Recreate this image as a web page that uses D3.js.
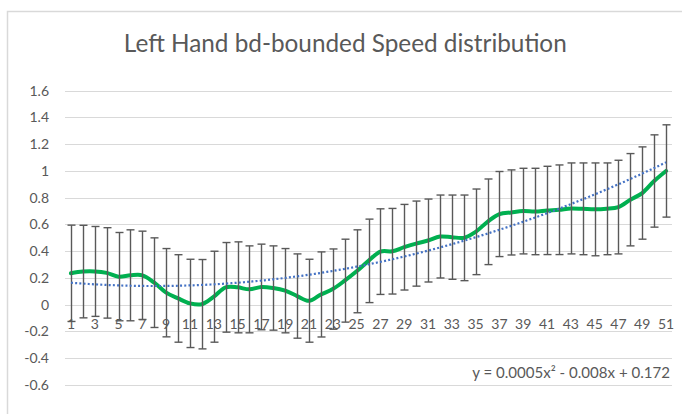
<!DOCTYPE html>
<html>
<head>
<meta charset="utf-8">
<script src="https://cdn.jsdelivr.net/npm/d3@7"></script>
<style>
  html, body { margin: 0; padding: 0; background: #fff; }
  svg { display: block; }
  text { font-family: Lato, "Open Sans", "Liberation Sans", sans-serif; fill: #595959; }
</style>
</head>
<body>
<svg id="chart" width="682" height="414"></svg>
<script>
// Sample index (1..51)
const categories = [1,2,3,4,5,6,7,8,9,10,11,12,13,14,15,16,17,18,19,20,21,22,23,24,25,
  26,27,28,29,30,31,32,33,34,35,36,37,38,39,40,41,42,43,44,45,46,47,48,49,50,51];

// Mean speed per sample
const meanSpeed = [0.235,0.248,0.249,0.238,0.21,0.22,0.22,0.165,0.09,0.047,0.01,0.004,0.06,0.13,
  0.13,0.115,0.133,0.125,0.105,0.065,0.03,0.077,0.117,0.18,0.25,0.328,0.397,0.40,0.43,0.457,
  0.48,0.51,0.505,0.50,0.545,0.62,0.678,0.69,0.70,0.697,0.705,0.71,0.72,0.717,0.713,0.717,
  0.73,0.785,0.835,0.925,1.0];

// Standard deviation per sample (symmetric error bars)
const stdDev = [0.36,0.346,0.336,0.338,0.33,0.34,0.33,0.335,0.33,0.327,0.33,0.334,0.34,0.335,
  0.34,0.325,0.32,0.315,0.315,0.315,0.31,0.318,0.30,0.31,0.31,0.312,0.32,0.32,0.32,0.318,
  0.31,0.31,0.315,0.32,0.32,0.32,0.318,0.318,0.32,0.323,0.33,0.335,0.34,0.343,0.347,0.343,
  0.35,0.345,0.345,0.345,0.345];

// Polynomial trendline coefficients: c0 + c1*x + c2*x^2
const trendCoef = [0.172, -0.008, 0.0005];

// Axis tick values
const yTicks = [-0.6,-0.4,-0.2,0,0.2,0.4,0.6,0.8,1,1.2,1.4,1.6];
const xTickLabels = [1,3,5,7,9,11,13,15,17,19,21,23,25,27,29,31,33,35,37,39,41,43,45,47,49,51];

const titleText = "Left Hand bd-bounded Speed distribution";
const equationText = "y = 0.0005x\u00B2 - 0.008x + 0.172";

const svg = d3.select("#chart");

// chart frame
svg.append("rect")
  .attr("x", 7.5).attr("y", 11.5)
  .attr("width", 720).attr("height", 440)
  .attr("fill", "none").attr("stroke", "#d9d9d9").attr("stroke-width", 1.5);

const plot = { left: 65, right: 672, top: 90.7, bottom: 385 };

const x = d3.scaleBand().domain(categories).range([plot.left, plot.right]);
const cx = c => x(c) + x.bandwidth() / 2;
const y = d3.scaleLinear().domain([-0.6, 1.6]).range([plot.bottom, plot.top]);

// gridlines
svg.append("g").selectAll("line").data(yTicks).join("line")
  .attr("x1", plot.left).attr("x2", plot.right)
  .attr("y1", d => Math.round(y(d)) + 0.5).attr("y2", d => Math.round(y(d)) + 0.5)
  .attr("stroke", "#d9d9d9").attr("stroke-width", 1);

// y axis labels
const yAxis = d3.axisLeft(y).tickValues(yTicks).tickSize(0).tickPadding(16)
  .tickFormat(d => String(+d.toFixed(1)).replace("\u2212", "-"));
svg.append("g").attr("transform", `translate(${plot.left},0)`).call(yAxis)
  .call(g => g.select(".domain").remove())
  .selectAll("text")
  .style("font-family", "Lato, 'Open Sans', 'Liberation Sans', sans-serif")
  .style("font-size", "14px").attr("fill", "#595959");

// x axis labels sitting on the zero line
const xAxis = d3.axisBottom(x).tickValues(xTickLabels).tickSize(0).tickPadding(14);
svg.append("g").attr("transform", `translate(0,${y(0)})`).call(xAxis)
  .call(g => g.select(".domain").remove())
  .selectAll("text")
  .style("font-family", "Lato, 'Open Sans', 'Liberation Sans', sans-serif")
  .style("font-size", "14px").attr("fill", "#595959");

// mean speed line (smoothed)
const line = d3.line()
  .x((d, i) => cx(categories[i]))
  .y(d => y(d))
  .curve(d3.curveCatmullRom.alpha(0.5));
svg.append("path").datum(meanSpeed)
  .attr("d", line)
  .attr("fill", "none").attr("stroke", "#00b050")
  .attr("stroke-width", 4).attr("stroke-linejoin", "round").attr("stroke-linecap", "round");

// error bars
const eb = svg.append("g").attr("stroke", "#595959").attr("stroke-width", 1.4).attr("fill", "none");
const capHalf = 4;
categories.forEach((c, i) => {
  const px = Math.round(cx(c)) + 0.5;
  const top = y(meanSpeed[i] + stdDev[i]);
  const bot = y(meanSpeed[i] - stdDev[i]);
  eb.append("line").attr("x1", px).attr("x2", px).attr("y1", top).attr("y2", bot);
  eb.append("line").attr("x1", px - capHalf).attr("x2", px + capHalf).attr("y1", top).attr("y2", top);
  eb.append("line").attr("x1", px - capHalf).attr("x2", px + capHalf).attr("y1", bot).attr("y2", bot);
});

// polynomial trendline from the stated equation
const xn = d3.scaleLinear().domain([categories[0], categories[categories.length - 1]])
  .range([cx(categories[0]), cx(categories[categories.length - 1])]);
const poly = t => trendCoef[0] + trendCoef[1] * t + trendCoef[2] * t * t;
const steps = 200;
const trendPts = d3.range(steps + 1).map(k => {
  const t = categories[0] + (categories[categories.length - 1] - categories[0]) * k / steps;
  return [xn(t), y(poly(t))];
});
svg.append("path").datum(trendPts)
  .attr("d", d3.line())
  .attr("fill", "none").attr("stroke", "#4472c4")
  .attr("stroke-width", 2.2).attr("stroke-dasharray", "2,2.2");

// title, fitted to its width
const title = svg.append("text")
  .attr("x", 345.3).attr("y", 52.3).attr("text-anchor", "middle")
  .style("font-size", "24px").text(titleText);
const tw = title.node().getComputedTextLength();
title.style("font-size", (24 * 443 / tw).toFixed(2) + "px");

// trendline equation
const eq = svg.append("text")
  .attr("x", 670).attr("y", 377.5).attr("text-anchor", "end")
  .style("font-size", "13px").text(equationText);
const ew = eq.node().getComputedTextLength();
eq.style("font-size", (13 * 198 / ew).toFixed(2) + "px");
</script>
</body>
</html>
